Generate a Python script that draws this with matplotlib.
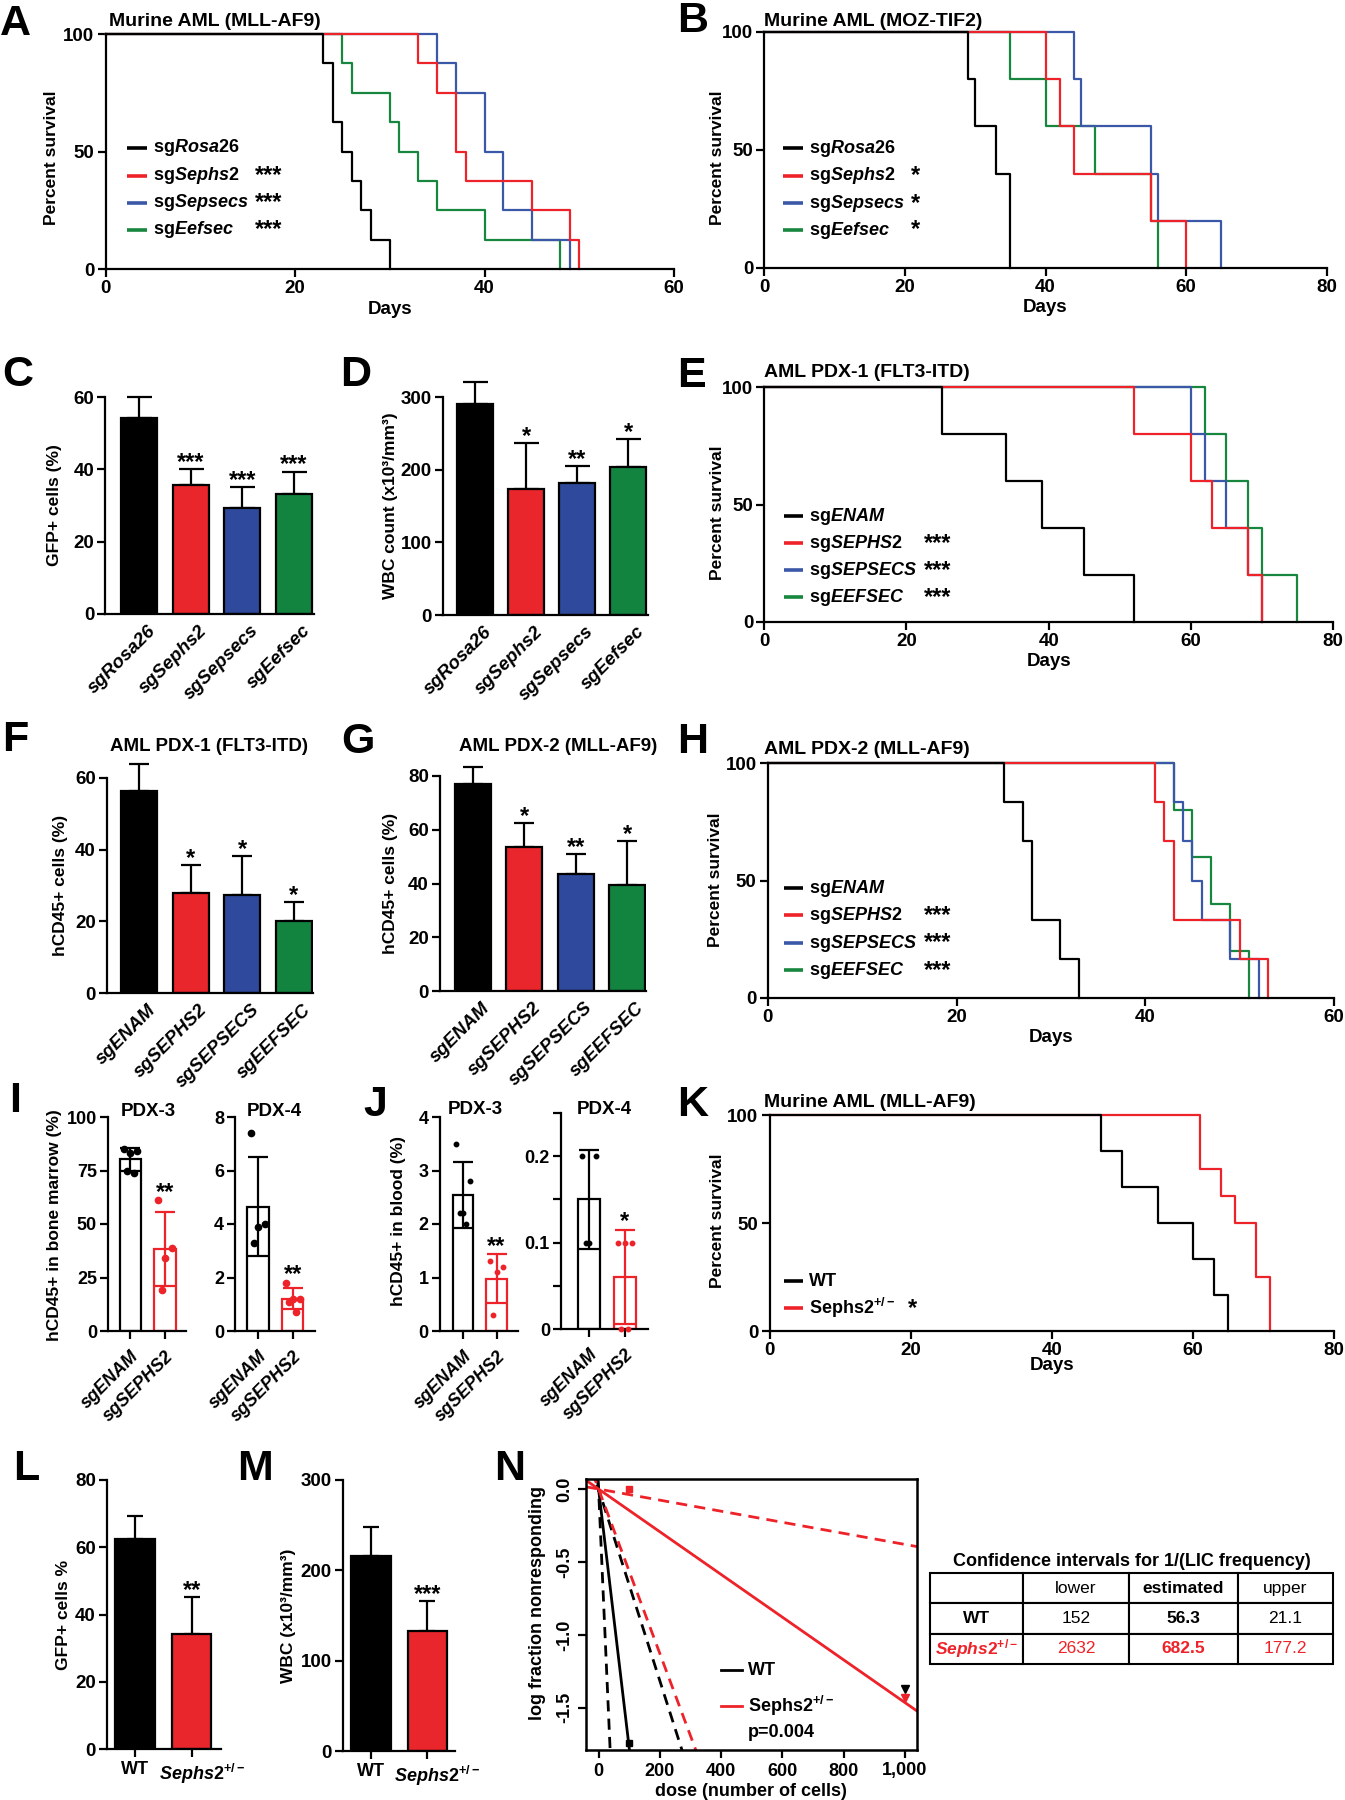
import numpy as np
import matplotlib
matplotlib.use('Agg')
import matplotlib.pyplot as plt
from matplotlib.transforms import ScaledTranslation

plt.rcParams['font.family'] = ['Liberation Sans', 'DejaVu Sans']
plt.rcParams['font.weight'] = 'bold'
plt.rcParams['mathtext.fontset'] = 'custom'
plt.rcParams['mathtext.rm'] = 'Liberation Sans:bold'
plt.rcParams['mathtext.it'] = 'Liberation Sans:italic:bold'
plt.rcParams['mathtext.bf'] = 'Liberation Sans:bold'
plt.rcParams['axes.linewidth'] = 1.6
plt.rcParams['xtick.major.width'] = 1.6
plt.rcParams['ytick.major.width'] = 1.6
plt.rcParams['xtick.major.size'] = 5
plt.rcParams['ytick.major.size'] = 5

# ---------------- data ----------------
# A: murine AML (MLL-AF9), day of death per mouse
a_rosa26 = [23, 24, 24, 25, 26, 27, 28, 30]
a_sephs2 = [33, 35, 37, 37, 38, 45, 49, 50]
a_sepsecs = [35, 37, 40, 40, 42, 42, 45, 49]
a_eefsec = [25, 26, 30, 31, 33, 35, 40, 48]

# B: murine AML (MOZ-TIF2)
b_rosa26 = [29, 30, 33, 35, 35]
b_sephs2 = [40, 42, 44, 55, 60]
b_sepsecs = [44, 45, 55, 56, 65]
b_eefsec = [35, 40, 47, 55, 56]

# C / D
cd_labels = ['sgRosa26', 'sgSephs2', 'sgSepsecs', 'sgEefsec']
c_mean = [54.3, 35.6, 29.4, 33.1]
c_err = [5.7, 4.4, 5.7, 6.3]
c_stars = ['', '***', '***', '***']
d_mean = [290, 174, 182, 203]
d_err = [31, 63, 23, 39]
d_stars = ['', '*', '**', '*']

# E: AML PDX-1
e_enam = [25, 34, 39, 45, 52]
e_sephs2 = [52, 60, 63, 68, 70]
e_sepsecs = [60, 62, 65, 68, 70]
e_eefsec = [62, 65, 68, 70, 75]

# F / G
fg_labels = ['sgENAM', 'sgSEPHS2', 'sgSEPSECS', 'sgEEFSEC']
f_mean = [56.3, 27.9, 27.4, 20.1]
f_err = [7.6, 7.8, 10.8, 5.2]
f_stars = ['', '*', '*', '*']
g_mean = [76.9, 53.6, 43.7, 39.6]
g_err = [6.4, 8.8, 7.4, 16.2]
g_stars = ['', '*', '**', '*']

# H: AML PDX-2
h_enam = [25, 27, 28, 28, 31, 33]
h_sephs2 = [41, 42, 43, 43, 50, 53]
h_sepsecs = [43, 44, 45, 46, 49, 52]
h_eefsec = [43, 45, 47, 49, 51]

# I / J
ij_labels = ['sgENAM', 'sgSEPHS2']
i3_enam = [85, 84, 83, 75, 74]
i3_sephs2 = [61, 39, 34, 19]
i4_enam = [7.4, 4.0, 3.9, 3.3]
i4_sephs2 = [1.8, 1.2, 1.2, 1.1, 0.7]
j3_enam = [3.5, 2.8, 2.2, 2.2, 2.0]
j3_sephs2 = [1.3, 1.2, 1.1, 0.3]
j4_enam = [0.2, 0.2, 0.1, 0.1]
j4_sephs2 = [0.1, 0.1, 0.1, 0.0, 0.0]

# K: murine AML (MLL-AF9), WT vs Sephs2+/- recipients
k_wt = [47, 50, 55, 60, 63, 65]
k_sephs2 = [61, 61, 64, 66, 69, 69, 71, 71]

# L / M
lm_labels = ['WT', r'$\mathit{Sephs2}^{+/-}$']
l_mean = [62.5, 34.1]
l_err = [6.9, 11.2]
m_mean = [216, 133]
m_err = [31.6, 33]

# N: limiting dilution, 1/(LIC frequency)
n_lower = [152, 2632]
n_est = [56.3, 682.5]
n_upper = [21.1, 177.2]
n_pts_x_wt = [100, 1000]
n_pts_y_wt = [-1.74, -1.37]
n_pts_x_het = [100, 1000]
n_pts_y_het = [0.0, -1.43]

# ---------------- style ----------------
BLACK = '#000000'
RED = '#ee2229'
BLUE = '#3b58a8'
GREEN = '#17873f'
BAR_RED = '#e8262c'
BAR_BLUE = '#2f4a9c'
BAR_GREEN = '#13843f'

W, H = 1345, 1800
fig = plt.figure(figsize=(W / 100, H / 100), dpi=100)


def add_ax(l, t, r, b):
    return fig.add_axes([l / W, 1 - b / H, (r - l) / W, (b - t) / H])


def ftext(x, y, s, **kw):
    return fig.text(x / W, 1 - y / H, s, **kw)


def clean(ax):
    ax.spines['top'].set_visible(False)
    ax.spines['right'].set_visible(False)


def shift(label, dx_px):
    label.set_transform(label.get_transform() +
                        ScaledTranslation(dx_px / 100, 0, fig.dpi_scale_trans))


def km(deaths):
    d = np.sort(np.asarray(deaths, float))
    n = len(d)
    x = np.concatenate([[0], d])
    y = np.concatenate([[100], 100 * (1 - np.arange(1, n + 1) / n)])
    return x, y


def survival(box, groups, colors, labels, stars, xmax, leg, ylab_xy, xlab_y):
    ax = add_ax(*box)
    # draw order: green, blue, red, black on top
    order = [i for i in (3, 2, 1, 0) if i < len(groups)]
    for i in order:
        x, y = km(groups[i])
        ax.step(x, y, where='post', color=colors[i], lw=1.6, clip_on=False)
    ax.set_xlim(0, xmax)
    ax.set_ylim(0, 100)
    ax.set_xticks(np.arange(0, xmax + 1, 20))
    ax.set_yticks([0, 50, 100])
    clean(ax)
    ax.tick_params(labelsize=13.5, length=6, pad=2)
    lx0, lx1, tx, sx, rows = leg
    for c, lab, st, ry in zip(colors, labels, stars, rows):
        ax.plot([lx0, lx1], [ry, ry], transform=ax.transAxes, color=c, lw=2.6,
                solid_capstyle='butt', clip_on=False)
        ax.text(tx, ry, lab, transform=ax.transAxes, va='center', ha='left', fontsize=13)
        ax.text(sx, ry, st, transform=ax.transAxes, va='center', ha='left', fontsize=17)
    ftext(ylab_xy[0], ylab_xy[1], 'Percent survival', rotation=90, ha='center',
          va='center', fontsize=12.5)
    ftext((box[0] + box[2]) / 2, xlab_y, 'Days', ha='center', va='center', fontsize=13.5)
    return ax


def bars(box, means, errs, colors, labels, stars, ymax, yticks, xlim, capsize, ylab, ylab_x,
         rot=True, xtick_len=0):
    ax = add_ax(*box)
    x = np.arange(len(means))
    eb = ax.errorbar(x, means, yerr=[np.zeros(len(errs)), errs], fmt='none', ecolor='black',
                     elinewidth=1.6, capsize=capsize, capthick=1.6, zorder=1)
    for art in eb.get_children():
        art.set_clip_on(False)
    ax.bar(x, means, width=0.7, color=colors, edgecolor='black', lw=1.6, zorder=2)
    for xi, m, e, s in zip(x, means, errs, stars):
        ax.annotate(s, (xi, m + e), xytext=(0, 0), textcoords='offset points',
                    ha='center', va='baseline', fontsize=17, annotation_clip=False)
    ax.set_xlim(*xlim)
    ax.set_ylim(0, ymax)
    ax.set_yticks(yticks)
    ax.set_xticks(x)
    clean(ax)
    ax.tick_params(axis='y', labelsize=13.5, length=6, pad=2)
    if rot:
        ax.set_xticklabels(labels, rotation=45, ha='right', va='top', rotation_mode='anchor',
                           fontstyle='italic', fontsize=13.5)
        ax.tick_params(axis='x', length=xtick_len, pad=6)
        for lab in ax.get_xticklabels():
            shift(lab, 8)
    else:
        ax.set_xticklabels(labels, fontsize=13)
        ax.tick_params(axis='x', length=xtick_len, pad=3)
        shift(ax.get_xticklabels()[1], 10)
    ftext(ylab_x, (box[1] + box[3]) / 2, ylab, rotation=90, ha='center', va='center',
          fontsize=12.5)
    return ax


def dots(box, groups, colors, ylim, yticks, yticklabels, xlim, star, msize, capsize):
    ax = add_ax(*box)
    offsets = [-0.2, 0.2, 0.0, -0.1, 0.1]
    tops = []
    for i, (v, c) in enumerate(zip(groups, colors)):
        v = np.asarray(v, float)
        m, sd = v.mean(), v.std(ddof=1)
        ax.bar(i, m, width=0.62, facecolor='white', edgecolor=c, lw=1.6, zorder=1)
        eb = ax.errorbar(i, m, yerr=sd, fmt='none', ecolor=c, elinewidth=1.6,
                         capsize=capsize, capthick=1.6, zorder=2)
        for art in eb.get_children():
            art.set_clip_on(False)
        ax.plot(i + np.array(offsets[:len(v)]), v, 'o', color=c, ms=msize, zorder=3,
                clip_on=False)
        tops.append(max(m + sd, v.max()))
    ax.annotate(star, (1, tops[1]), xytext=(0, 1), textcoords='offset points', ha='center',
                va='baseline', fontsize=17, color=BLACK, annotation_clip=False)
    ax.set_xlim(*xlim)
    ax.set_ylim(*ylim)
    ax.set_yticks(yticks)
    ax.set_yticklabels(yticklabels)
    ax.set_xticks([0, 1])
    ax.set_xticklabels(ij_labels, rotation=45, ha='right', va='top', rotation_mode='anchor',
                       fontstyle='italic', fontsize=13.5)
    for lab in ax.get_xticklabels():
        shift(lab, 8)
    clean(ax)
    ax.tick_params(labelsize=13, length=6, pad=2)
    ax.tick_params(axis='x', pad=6)
    return ax


sg = lambda g: r'sg$\mathit{' + g + '}$'

# ---------------- A ----------------
survival((105.6, 34, 674, 269), [a_rosa26, a_sephs2, a_sepsecs, a_eefsec],
         [BLACK, RED, BLUE, GREEN],
         [sg('Rosa26'), sg('Sephs2'), sg('Sepsecs'), sg('Eefsec')],
         ['', '***', '***', '***'], 60,
         (0.037, 0.072, 0.084, 0.262, [0.515, 0.396, 0.281, 0.166]), (52, 158), 310)
ftext(109, 26, 'Murine AML (MLL-AF9)', ha='left', va='baseline', fontsize=14)

# ---------------- B ----------------
survival((764.3, 32, 1326.8, 268), [b_rosa26, b_sephs2, b_sepsecs, b_eefsec],
         [BLACK, RED, BLUE, GREEN],
         [sg('Rosa26'), sg('Sephs2'), sg('Sepsecs'), sg('Eefsec')],
         ['', '*', '*', '*'], 80,
         (0.034, 0.068, 0.080, 0.261, [0.508, 0.39, 0.275, 0.161]), (717, 158), 308)
ftext(764, 26, 'Murine AML (MOZ-TIF2)', ha='left', va='baseline', fontsize=14)

# ---------------- C / D ----------------
bars((105.4, 397, 313.5, 614), c_mean, c_err, [BLACK, BAR_RED, BAR_BLUE, BAR_GREEN],
     cd_labels, c_stars, 60, [0, 20, 40, 60], (-0.65, 3.38), 9, 'GFP+ cells (%)', 55)
bars((443, 397, 648, 615), d_mean, d_err, [BLACK, BAR_RED, BAR_BLUE, BAR_GREEN],
     cd_labels, d_stars, 300, [0, 100, 200, 300], (-0.63, 3.39), 9,
     'WBC count (x10³/mm³)', 391)

# ---------------- E ----------------
survival((764.3, 387, 1333, 622), [e_enam, e_sephs2, e_sepsecs, e_eefsec],
         [BLACK, RED, BLUE, GREEN],
         [sg('ENAM'), sg('SEPHS2'), sg('SEPSECS'), sg('EEFSEC')],
         ['', '***', '***', '***'], 80,
         (0.034, 0.068, 0.079, 0.281, [0.451, 0.336, 0.221, 0.106]), (717, 513), 662)
ftext(764, 377, 'AML PDX-1 (FLT3-ITD)', ha='left', va='baseline', fontsize=14)

# ---------------- F / G ----------------
bars((107, 778, 313, 993), f_mean, f_err, [BLACK, BAR_RED, BAR_BLUE, BAR_GREEN],
     fg_labels, f_stars, 60, [0, 20, 40, 60], (-0.63, 3.37), 7, 'hCD45+ cells (%)', 60)
ftext(209, 751, 'AML PDX-1 (FLT3-ITD)', ha='center', va='baseline', fontsize=13.5)
bars((440, 776, 645.5, 991), g_mean, g_err, [BLACK, BAR_RED, BAR_BLUE, BAR_GREEN],
     fg_labels, g_stars, 80, [0, 20, 40, 60, 80], (-0.64, 3.36), 7, 'hCD45+ cells (%)', 391)
ftext(558, 751, 'AML PDX-2 (MLL-AF9)', ha='center', va='baseline', fontsize=13.5)

# ---------------- H ----------------
survival((767.8, 763, 1334, 998), [h_enam, h_sephs2, h_sepsecs, h_eefsec],
         [BLACK, RED, BLUE, GREEN],
         [sg('ENAM'), sg('SEPHS2'), sg('SEPSECS'), sg('EEFSEC')],
         ['', '***', '***', '***'], 60,
         (0.028, 0.062, 0.073, 0.276, [0.468, 0.353, 0.234, 0.119]), (715, 880), 1038)
ftext(764, 754, 'AML PDX-2 (MLL-AF9)', ha='left', va='baseline', fontsize=14)

# ---------------- I / J ----------------
dots((108, 1117, 185.7, 1331), [i3_enam, i3_sephs2], [BLACK, RED], (0, 100),
     [0, 25, 50, 75, 100], ['0', '25', '50', '75', '100'], (-0.65, 1.6), '**', 4.5, 7)
dots((235.3, 1117, 315, 1331), [i4_enam, i4_sephs2], [BLACK, RED], (0, 8),
     [0, 2, 4, 6, 8], ['0', '2', '4', '6', '8'], (-0.64, 1.64), '**', 4.5, 7)
dots((439.5, 1117, 518, 1331), [j3_enam, j3_sephs2], [BLACK, RED], (0, 4),
     [0, 1, 2, 3, 4], ['0', '1', '2', '3', '4'], (-0.7, 1.64), '**', 3.2, 7)
dots((561, 1113, 647.7, 1329), [j4_enam, j4_sephs2], [BLACK, RED], (0, 0.25),
     [0, 0.05, 0.1, 0.15, 0.2, 0.25], ['0', '', '0.1', '', '0.2', ''], (-0.8, 1.65), '*', 3.2, 7)
ftext(148.5, 1116, 'PDX-3', ha='center', va='baseline', fontsize=13.5)
ftext(274, 1116, 'PDX-4', ha='center', va='baseline', fontsize=13.5)
ftext(475.5, 1114, 'PDX-3', ha='center', va='baseline', fontsize=13.5)
ftext(604, 1114, 'PDX-4', ha='center', va='baseline', fontsize=13.5)
ftext(54, 1225, 'hCD45+ in bone marrow (%)', rotation=90, ha='center', va='center',
      fontsize=12.5)
ftext(399, 1221, 'hCD45+ in blood (%)', rotation=90, ha='center', va='center', fontsize=12.5)

# ---------------- K ----------------
survival((769.5, 1115, 1334, 1331), [k_wt, k_sephs2], [BLACK, RED],
         ['WT', r'Sephs2$^{+/-}$'], ['', '*'], 80,
         (0.025, 0.06, 0.07, 0.245, [0.231, 0.106]), (717, 1221), 1366)
ftext(764, 1107, 'Murine AML (MLL-AF9)', ha='left', va='baseline', fontsize=14)

# ---------------- L / M ----------------
bars((107, 1480, 221, 1749), l_mean, l_err, [BLACK, BAR_RED], lm_labels, ['', '**'], 80,
     [0, 20, 40, 60, 80], (-0.5, 1.52), 6, 'GFP+ cells %', 63, rot=False, xtick_len=6)
bars((343, 1480, 455, 1751), m_mean, m_err, [BLACK, BAR_RED], lm_labels, ['', '***'], 300,
     [0, 100, 200, 300], (-0.5, 1.49), 6, 'WBC (x10³/mm³)', 288, rot=False, xtick_len=6)

# ---------------- N ----------------
nax = add_ax(586, 1479, 917, 1750)
nax.set_xlim(-41, 1039)
nax.set_ylim(-1.79, 0.069)
dose = np.array(nax.get_xlim())
for lo, est, up, c in zip(n_lower, n_est, n_upper, [BLACK, RED]):
    nax.plot(dose, -dose / est, color=c, lw=2)
    nax.plot(dose, -dose / lo, color=c, lw=2, ls=(0, (4, 2.6)))
    nax.plot(dose, -dose / up, color=c, lw=2, ls=(0, (4, 2.6)))
for px, py, c in ((n_pts_x_wt, n_pts_y_wt, BLACK), (n_pts_x_het, n_pts_y_het, RED)):
    nax.plot(px[:1], py[:1], 's', color=c, ms=4, clip_on=False)
    nax.plot(px[1:], py[1:], 'v', color=c, ms=6, clip_on=False)
nax.set_xticks([0, 200, 400, 600, 800, 1000])
nax.set_xticklabels(['0', '200', '400', '600', '800', '1,000'])
nax.set_yticks([0, -0.5, -1.0, -1.5])
nax.set_yticklabels(['0.0', '-0.5', '-1.0', '-1.5'], rotation=90, va='center')
nax.tick_params(labelsize=13, length=6, pad=3)
for s in nax.spines.values():
    s.set_linewidth(1.8)
nax.plot([0.408, 0.471], [0.295, 0.295], transform=nax.transAxes, color=BLACK, lw=2)
nax.plot([0.408, 0.471], [0.162, 0.162], transform=nax.transAxes, color=RED, lw=2)
nax.text(0.489, 0.295, 'WT', transform=nax.transAxes, va='center', fontsize=13)
nax.text(0.489, 0.162, r'Sephs2$^{+/-}$', transform=nax.transAxes, va='center', fontsize=13)
nax.text(0.489, 0.063, 'p=0.004', transform=nax.transAxes, va='center', fontsize=13)
ftext(537, 1603, 'log fraction nonresponding', rotation=90, ha='center', va='center',
      fontsize=13)
ftext(751, 1791, 'dose (number of cells)', ha='center', va='center', fontsize=13)

# ---------------- table ----------------
tax = add_ax(930, 1573, 1333, 1664)
tax.axis('off')
rows = [['', 'lower', 'estimated', 'upper'],
        ['WT'] + [f'{v:g}' for v in (n_lower[0], n_est[0], n_upper[0])],
        [r'$\mathit{Sephs2}^{+/-}$'] + [f'{v:g}' for v in (n_lower[1], n_est[1], n_upper[1])]]
tbl = tax.table(cellText=rows, bbox=[0, 0, 1, 1], cellLoc='center',
                colWidths=[93, 106, 109, 95])
tbl.auto_set_font_size(False)
for (r, c), cell in tbl.get_celld().items():
    cell.set_linewidth(1.5)
    t = cell.get_text()
    t.set_fontsize(12.5)
    t.set_fontweight('bold' if (c in (0, 2)) else 'normal')
    if r == 2:
        t.set_color(RED)
ftext(1132, 1561, 'Confidence intervals for 1/(LIC frequency)', ha='center', va='center',
      fontsize=13)

# ---------------- panel letters ----------------
for letter, x, y in [('A', 0, 35), ('B', 677, 32), ('C', 2, 386), ('D', 340, 386),
                     ('E', 677, 387), ('F', 2, 751), ('G', 341, 753), ('H', 677, 753),
                     ('I', 9, 1112), ('J', 363, 1116), ('K', 677, 1116), ('L', 13, 1480),
                     ('M', 237, 1480), ('N', 494, 1480)]:
    ftext(x, y, letter, ha='left', va='baseline', fontsize=31)

fig.savefig('out.png', dpi=100)
